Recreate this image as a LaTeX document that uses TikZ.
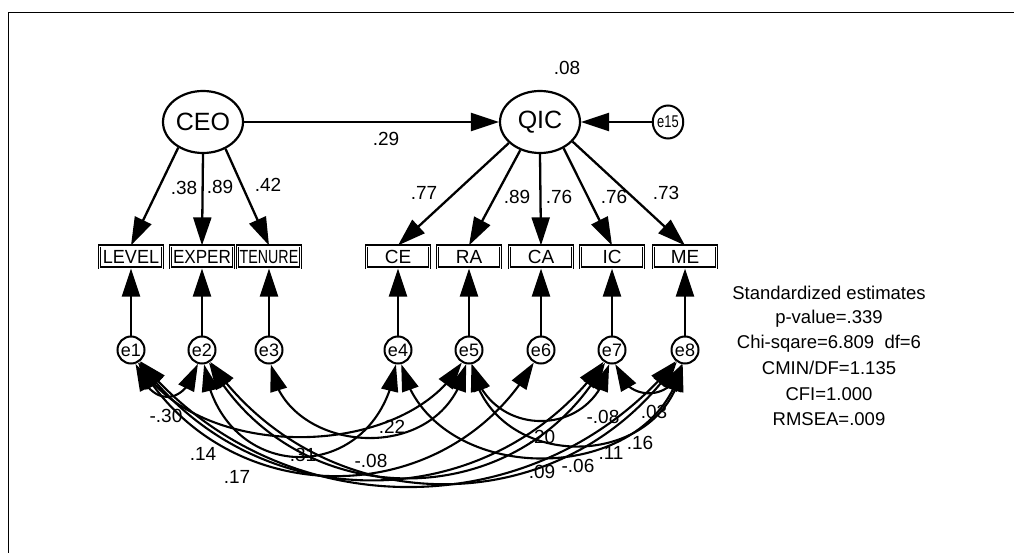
\documentclass[tikz,border=0pt]{standalone}
\usepackage{fontspec}
\setmainfont{Liberation Sans}
\usetikzlibrary{arrows.meta,shapes.geometric,bending}
\begin{document}
\begin{tikzpicture}[x=1pt,y=-1pt,
  lat/.style={ellipse,draw,line width=2.2pt,minimum width=80pt,minimum height=62pt,inner sep=0pt,font=\fontsize{25}{28}\selectfont},
  err/.style={circle,draw,line width=2pt,minimum size=27pt,inner sep=0pt,font=\fontsize{18}{20}\selectfont},
  obs/.style={rectangle,draw,double,double distance=0.6pt,line width=1.2pt,minimum width=63pt,minimum height=22pt,inner sep=0pt,font=\fontsize{19}{21}\selectfont},
  lbl/.style={inner sep=0pt,font=\fontsize{19}{21}\selectfont},
  txt/.style={inner sep=0pt,anchor=base,font=\fontsize{18.5}{21}\selectfont},
  arr/.style={-{Triangle[length=28pt,width=18pt]},line width=2.3pt},
  cov/.style={{Triangle[length=27pt,width=17pt]}-{Triangle[length=27pt,width=17pt]},line width=2.1pt},
]
\useasboundingbox (0,0) rectangle (1014,553);
% frame
\draw[line width=1.6pt] (8.5,553) -- (8.5,12.5) -- (1014,12.5);

% latent variables
\node[lat] (CEO) at (203,122) {CEO};
\node[lat] (QIC) at (540,122) {QIC};
\node[ellipse,draw,line width=2pt,minimum width=30pt,minimum height=33pt,inner sep=0pt,font=\fontsize{17}{19}\selectfont] (e15) at (668,122) {\scalebox{0.76}[1]{e15}};

% observed variables
\node[obs] (LEVEL) at (131,257) {\scalebox{0.95}[1]{LEVEL}};
\node[obs] (EXPER) at (202,257) {\scalebox{0.9}[1]{EXPER}};
\node[obs] (TENURE) at (269,257) {\scalebox{0.75}[1]{TENURE}};
\node[obs] (CE) at (398,257) {CE};
\node[obs] (RA) at (469,257) {RA};
\node[obs] (CA) at (541,257) {CA};
\node[obs] (IC) at (612,257) {IC};
\node[obs] (ME) at (685,257) {ME};

% error terms
\node[err] (e1) at (131,350) {e1};
\node[err] (e2) at (202,350) {e2};
\node[err] (e3) at (269,350) {e3};
\node[err] (e4) at (398,350) {e4};
\node[err] (e5) at (469,350) {e5};
\node[err] (e6) at (541,350) {e6};
\node[err] (e7) at (612,350) {e7};
\node[err] (e8) at (685,350) {e8};

% structural paths
\draw[arr] (CEO) -- (QIC);
\draw[arr] (e15) -- (QIC);
\node[lbl] (l29) at (386,139) {.29};
\node[lbl] (l08) at (567,68) {.08};

% loadings
\draw[arr] (CEO.226) -- (LEVEL.north);
\draw[arr] (CEO.270) -- (EXPER.north);
\draw[arr] (CEO.310) -- (TENURE.north);
\draw[arr] (QIC.214) -- (CE.north);
\draw[arr] (QIC.235) -- (RA.north);
\draw[arr] (QIC.270) -- (CA.north);
\draw[arr] (QIC.312) -- (IC.north);
\draw[arr] (QIC.329) -- (ME.north);
\node[lbl] (l38) at (184,188) {.38};
\node[lbl] (l89a) at (220,187) {.89};
\node[lbl] (l42) at (268,185) {.42};
\node[lbl] (l77) at (424,193) {.77};
\node[lbl] (l89b) at (517,197) {.89};
\node[lbl] (l76a) at (559,197) {.76};
\node[lbl] (l76b) at (614,197) {.76};
\node[lbl] (l73) at (666,193) {.73};

% error paths
\foreach \e/\b in {e1/LEVEL,e2/EXPER,e3/TENURE,e4/CE,e5/RA,e6/CA,e7/IC,e8/ME}
  \draw[arr] (\e) -- (\b);

% covariance labels
\node[lbl] (k1) at (166,416) {-.30};
\node[lbl] (k2) at (203,454) {.14};
\node[lbl] (k3) at (237,477) {.17};
\node[lbl] (k4) at (303,455) {.31};
\node[lbl] (k5) at (392,427) {.22};
\node[lbl] (k6) at (371,461) {-.08};
\node[lbl] (k7) at (542,437) {.20};
\node[lbl] (k8) at (603,417) {-.08};
\node[lbl] (k9) at (654,412) {.03};
\node[lbl] (k10) at (640,443) {.16};
\node[lbl] (k11) at (611,453) {.11};
\node[lbl] (k12) at (578,466) {-.06};
\node[lbl] (k13) at (542,472) {.09};

% covariances
\draw[cov] (e1) .. controls (150,408) and (185,408) .. (e2);
\draw[cov] (e7) .. controls (624,403) and (674,403) .. (e8);
\draw[cov] (e3) .. controls (282,455) and (445,470) .. (e5);
\draw[cov] (e2) .. controls (222,488) and (378,488) .. (e4);
\draw[cov] (e4) .. controls (430,490) and (654,490) .. (e8);
\draw[cov] (e5) .. controls (488,440) and (594,440) .. (e7);
\draw[cov] (e5) .. controls (490,474) and (665,474) .. (e8);
\draw[cov] (e1) .. controls (195,462) and (405,462) .. (e5);
\draw[cov] (e1) .. controls (225,514) and (447,514) .. (e6);
\draw[cov] (e1) .. controls (254,520) and (490,520) .. (e7);
\draw[cov] (e1) .. controls (279,529) and (538,529) .. (e8);
\draw[cov] (e2) .. controls (295,517) and (520,517) .. (e7);
\draw[cov] (e2) .. controls (323,525) and (565,525) .. (e8);

% fit statistics
\node[txt] (s1) at (829,299) {Standardized estimates};
\node[txt] (s2) at (829,323) {p-value=.339};
\node[txt] (s3) at (829,348) {Chi-sqare=6.809\ \ df=6};
\node[txt] (s4) at (829,374) {CMIN/DF=1.135};
\node[txt] (s5) at (829,400) {CFI=1.000};
\node[txt] (s6) at (829,425) {RMSEA=.009};
\end{tikzpicture}
\end{document}
